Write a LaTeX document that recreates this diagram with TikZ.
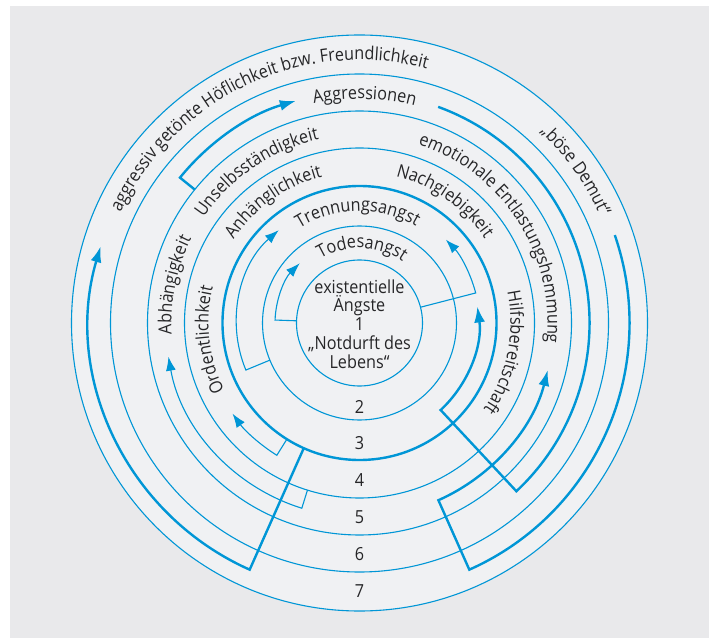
\documentclass[tikz,border=0pt]{standalone}
\usepackage{fontspec}
\setmainfont{Open Sans}[FakeStretch=0.9]
\usetikzlibrary{arrows.meta,decorations.text}
\definecolor{ringblue}{RGB}{0,150,214}
\definecolor{txt}{RGB}{38,38,40}
\definecolor{bggray}{RGB}{233,233,235}
\definecolor{ingray}{RGB}{240,241,243}
\newcommand\ringfont{\fontsize{18}{19}\selectfont}
\newcommand\ringtext[3]{%
  \path[decorate,decoration={text along path,text align=center,
     text={|\ringfont\color{txt}|#3}}]
     ({#2+90}:#1pt) arc[start angle={#2+90}, end angle={#2-90}, radius=#1pt];}
\begin{document}
\begin{tikzpicture}[x=1pt,y=1pt,
  thinline/.style={draw=ringblue, line width=1.1pt},
  thickline/.style={draw=ringblue, line width=2.4pt},
  thinarrow/.style={thinline, line join=miter, -{Latex[length=14pt,width=10pt]}},
  thickarrow/.style={thickline, line join=miter, -{Latex[length=16pt,width=11pt]}},
  lbl/.style={text=txt, font=\ringfont, inner sep=0pt},
]
\useasboundingbox (0,0) rectangle (709,638);
\fill[white] (0,0) rectangle (709,638);
\fill[bggray] (10,0) rectangle (709,632);
\begin{scope}[shift={(359.5,315)}]
  \fill[ingray] (0,0) circle[radius=288pt];
  % rings
  \draw[thinline] (0,0) circle[radius=63pt];
  \draw[thinline] (0,0) circle[radius=97pt];
  \draw[thickline] (0,0) circle[radius=137pt];
  \draw[thinline] (0,0) circle[radius=175pt];
  \draw[thinline] (0,0) circle[radius=212pt];
  \draw[thinline] (0,0) circle[radius=249pt];
  \draw[thinline] (0,0) circle[radius=288pt];
  % thin connectors
  \draw[thinarrow] (178:63pt) -- (178:84.5pt) arc[start angle=178, end angle=135, radius=84.5pt];
  \draw[thinarrow] (14.5:63pt) -- (14.5:120pt) arc[start angle=14.5, end angle=44, radius=120pt];
  \draw[thinarrow] (202.5:97pt) -- (202.5:123pt) arc[start angle=202.5, end angle=131, radius=123pt];
  \draw[thinarrow] (238:137pt) -- (238:156pt) arc[start angle=238, end angle=215.5, radius=156pt];
  \draw[thinarrow] (252.7:175pt) -- (252.7:194pt) arc[start angle=252.7, end angle=190, radius=194pt];
  % thick connectors
  \draw[thickarrow] (246:137pt) -- (246:270pt) arc[start angle=246, end angle=163.5, radius=270pt];
  \draw[thickarrow] (141:212pt) -- (141:231pt) arc[start angle=141, end angle=106, radius=231pt];
  \draw[thickarrow] (70:230pt) arc[start angle=70, end angle=-47, radius=230pt] -- (-47:119pt) arc[start angle=-47, end angle=8, radius=119pt];
  \draw[thickarrow] (19:270pt) arc[start angle=19, end angle=-66, radius=270pt] -- (-66:194pt) arc[start angle=-66, end angle=-14, radius=194pt];
  % ring texts
  \ringtext{75}{88}{Todesangst}
  \ringtext{112}{91}{Trennungsangst}
  \ringtext{151}{125.3}{Anhänglichkeit}
  \ringtext{151}{55}{Nachgiebigkeit}
  \ringtext{151}{186.4}{Ordentlichkeit}
  \ringtext{151}{-11.5}{Hilfsbereitschaft}
  \ringtext{188}{124.2}{Unselbsständigkeit}
  \ringtext{188}{168.4}{Abhängigkeit}
  \ringtext{188}{32.9}{emotionale Entlastungshemmung}
  \ringtext{224}{88.7}{Aggressionen}
  \ringtext{263}{115.2}{aggressiv getönte Höflichkeit bzw. Freundlichkeit}
  \ringtext{263}{35.2}{„böse Demut“}
  % centre and numbers
  \node[lbl, align=center, font=\fontsize{18}{18.8}\selectfont] (core) at (0,-1) {existentielle\\Ängste\\1\\„Notdurft des\\Lebens“};
  \node[lbl] (n2) at (0,-84) {2};
  \node[lbl] (n3) at (0,-120) {3};
  \node[lbl] (n4) at (0,-157) {4};
  \node[lbl] (n5) at (0,-194) {5};
  \node[lbl] (n6) at (0,-231.5) {6};
  \node[lbl] (n7) at (0,-268) {7};
\end{scope}
\end{tikzpicture}
\end{document}
